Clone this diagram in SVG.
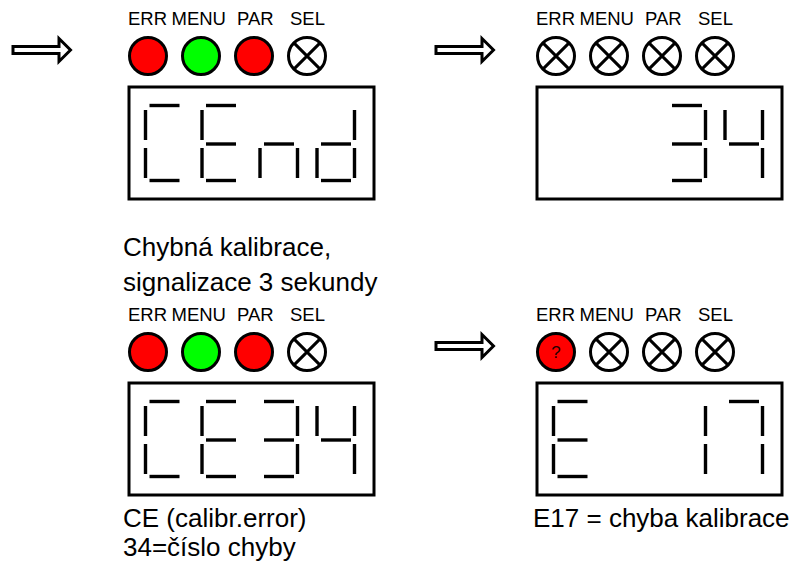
<svg xmlns="http://www.w3.org/2000/svg" xmlns:xlink="http://www.w3.org/1999/xlink" width="797" height="564" viewBox="0 0 797 564">
<style>
.lbl{font-family:"Liberation Sans",Arial,sans-serif;font-size:18.5px;fill:#000}
.txt{font-family:"Liberation Sans",Arial,sans-serif;font-size:26px;fill:#000}
.q{font-family:"Liberation Sans",Arial,sans-serif;font-size:17px;fill:#200;text-anchor:middle}
.box{fill:#fff;stroke:#000;stroke-width:3}
.seg{fill:none;stroke:#000;stroke-width:3.4}
.led{stroke:#000;stroke-width:3}
.red{fill:#ff0000}
.grn{fill:#00ff00}
.off{fill:#fff}
.x{stroke:#000;stroke-width:3}
.arr{fill:#fff;stroke:#000;stroke-width:3;stroke-linejoin:miter}
</style>
<defs>
<path id="sa" class="seg" d="M4,0H34"/>
<path id="sg" class="seg" d="M4,38.5H34"/>
<path id="sd" class="seg" d="M4,75H34"/>
<path id="sf" class="seg" d="M0,4.5V34.5"/>
<path id="se" class="seg" d="M0,42.5V72.5"/>
<path id="sb" class="seg" d="M37.5,4.5V34.5"/>
<path id="sc" class="seg" d="M37.5,42.5V72.5"/>
<g id="ledoff"><circle class="led off" r="18.5"/><path class="x" d="M-13.1,-13.1L13.1,13.1M13.1,-13.1L-13.1,13.1"/></g>
<path id="arrow" class="arr" d="M0,-3.5H46V-11.5L57.5,0L46,11.5V3.5H0Z"/>
<g id="labels"><text class="lbl" x="128" y="25">ERR</text><text class="lbl" x="171.5" y="25">MENU</text><text class="lbl" x="237" y="25">PAR</text><text class="lbl" x="290" y="25">SEL</text></g>
</defs>

<g id="connectors">
<use xlink:href="#arrow" x="13" y="50"/>
<use xlink:href="#arrow" x="436" y="50"/>
<use xlink:href="#arrow" x="436" y="346"/>
</g>

<g id="panel1">
<use xlink:href="#labels"/>
<circle class="led red" cx="148" cy="56" r="18.5"/>
<circle class="led grn" cx="201" cy="56" r="18.5"/>
<circle class="led red" cx="254" cy="56" r="18.5"/>
<use xlink:href="#ledoff" x="307" y="56"/>
<rect class="box" x="129" y="87" width="245" height="112"/>
<g transform="translate(145.5,105.5)"><use xlink:href="#sa"/><use xlink:href="#sf"/><use xlink:href="#se"/><use xlink:href="#sd"/></g>
<g transform="translate(202,105.5)"><use xlink:href="#sa"/><use xlink:href="#sf"/><use xlink:href="#sg"/><use xlink:href="#se"/><use xlink:href="#sd"/></g>
<g transform="translate(260,105.5)"><use xlink:href="#se"/><use xlink:href="#sg"/><use xlink:href="#sc"/></g>
<g transform="translate(317,105.5)"><use xlink:href="#sb"/><use xlink:href="#sc"/><use xlink:href="#sg"/><use xlink:href="#se"/><use xlink:href="#sd"/></g>
</g>

<g id="panel2">
<use xlink:href="#labels" x="408"/>
<use xlink:href="#ledoff" x="556" y="56"/>
<use xlink:href="#ledoff" x="609" y="56"/>
<use xlink:href="#ledoff" x="662" y="56"/>
<use xlink:href="#ledoff" x="715" y="56"/>
<rect class="box" x="537" y="87" width="245" height="112"/>
<g transform="translate(668,105.5)"><use xlink:href="#sa"/><use xlink:href="#sb"/><use xlink:href="#sg"/><use xlink:href="#sc"/><use xlink:href="#sd"/></g>
<g transform="translate(725,105.5)"><use xlink:href="#sf"/><use xlink:href="#sb"/><use xlink:href="#sg"/><use xlink:href="#sc"/></g>
</g>

<g id="note1">
<text class="txt" x="123" y="256">Chybná kalibrace,</text>
<text class="txt" x="123" y="291">signalizace 3 sekundy</text>
</g>

<g id="panel3">
<use xlink:href="#labels" y="296"/>
<circle class="led red" cx="148" cy="352" r="18.5"/>
<circle class="led grn" cx="201" cy="352" r="18.5"/>
<circle class="led red" cx="254" cy="352" r="18.5"/>
<use xlink:href="#ledoff" x="307" y="352"/>
<rect class="box" x="129" y="383" width="245" height="112"/>
<g transform="translate(145.5,401.5)"><use xlink:href="#sa"/><use xlink:href="#sf"/><use xlink:href="#se"/><use xlink:href="#sd"/></g>
<g transform="translate(202,401.5)"><use xlink:href="#sa"/><use xlink:href="#sf"/><use xlink:href="#sg"/><use xlink:href="#se"/><use xlink:href="#sd"/></g>
<g transform="translate(260,401.5)"><use xlink:href="#sa"/><use xlink:href="#sb"/><use xlink:href="#sg"/><use xlink:href="#sc"/><use xlink:href="#sd"/></g>
<g transform="translate(317,401.5)"><use xlink:href="#sf"/><use xlink:href="#sb"/><use xlink:href="#sg"/><use xlink:href="#sc"/></g>
</g>

<g id="note3">
<text class="txt" x="123" y="527">CE (calibr.error)</text>
<text class="txt" x="123" y="556">34=číslo chyby</text>
</g>

<g id="panel4">
<use xlink:href="#labels" x="408" y="296"/>
<circle class="led red" cx="556" cy="352" r="18.5"/>
<text class="q" x="556" y="358">?</text>
<use xlink:href="#ledoff" x="609" y="352"/>
<use xlink:href="#ledoff" x="662" y="352"/>
<use xlink:href="#ledoff" x="715" y="352"/>
<rect class="box" x="537" y="383" width="245" height="112"/>
<g transform="translate(553.5,401.5)"><use xlink:href="#sa"/><use xlink:href="#sf"/><use xlink:href="#sg"/><use xlink:href="#se"/><use xlink:href="#sd"/></g>
<g transform="translate(668,401.5)"><use xlink:href="#sb"/><use xlink:href="#sc"/></g>
<g transform="translate(725,401.5)"><use xlink:href="#sa"/><use xlink:href="#sb"/><use xlink:href="#sc"/></g>
</g>

<g id="note4">
<text class="txt" x="533" y="527">E17 = chyba kalibrace</text>
</g>
</svg>
